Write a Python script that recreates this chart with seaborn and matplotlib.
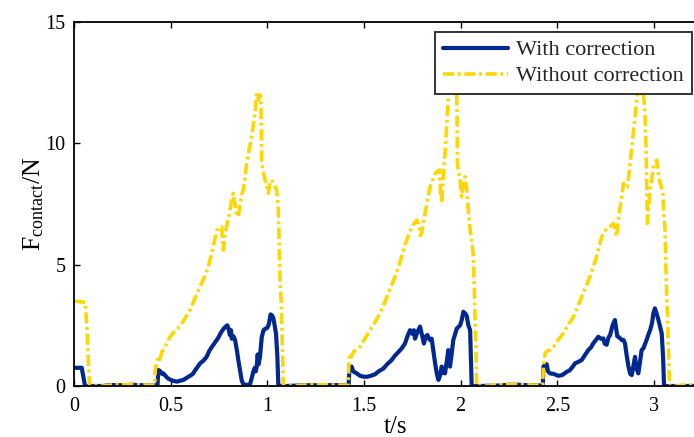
import matplotlib
matplotlib.use("Agg")
import matplotlib.pyplot as plt
import seaborn as sns
import pandas as pd

# ---------------- data ----------------
t_with = [0, 0.04, 0.048, 0.057, 0.15, 0.19, 0.25, 0.3, 0.35, 0.41, 0.432,
          0.436, 0.445, 0.455, 0.462, 0.475, 0.488, 0.51, 0.531, 0.55, 0.566, 0.585, 0.6, 0.615,
          0.626, 0.64, 0.652, 0.67, 0.686, 0.7, 0.712, 0.73, 0.747, 0.76, 0.773, 0.785, 0.793,
          0.80, 0.806, 0.812, 0.816, 0.825, 0.833, 0.842, 0.85, 0.86, 0.867, 0.875, 0.885, 0.91,
          0.918, 0.928, 0.935, 0.94, 0.945, 0.95, 0.955, 0.962, 0.971, 0.98, 0.988, 1.0, 1.008,
          1.017, 1.025, 1.031, 1.04, 1.045, 1.052, 1.057,
          1.1, 1.2, 1.3, 1.35, 1.415,
          1.42, 1.425, 1.436, 1.445, 1.462, 1.48, 1.5, 1.514, 1.535, 1.557, 1.575, 1.6, 1.62,
          1.643, 1.66, 1.678, 1.695, 1.712, 1.725, 1.738, 1.75, 1.758, 1.764, 1.775, 1.79, 1.80,
          1.81, 1.82, 1.828, 1.84, 1.85, 1.858, 1.868, 1.877, 1.885, 1.894, 1.902, 1.91, 1.919,
          1.928, 1.936, 1.945, 1.953, 1.962, 1.97, 1.98, 1.997, 2.005, 2.014, 2.022, 2.031, 2.04,
          2.049, 2.053, 2.057,
          2.1, 2.2, 2.25, 2.3, 2.35, 2.425,
          2.428, 2.437, 2.445, 2.452, 2.462, 2.48, 2.505, 2.525, 2.548, 2.565, 2.58, 2.591, 2.61,
          2.626, 2.645, 2.66, 2.675, 2.686, 2.7, 2.712, 2.725, 2.738, 2.745, 2.755, 2.765, 2.773,
          2.786, 2.798, 2.804, 2.81, 2.82, 2.833, 2.842, 2.85, 2.858, 2.868, 2.877, 2.885, 2.893,
          2.902, 2.91, 2.919, 2.928, 2.936, 2.945, 2.962, 2.97, 2.98, 2.99, 2.997, 3.005, 3.013,
          3.023, 3.03, 3.04, 3.047, 3.052, 3.1, 3.21]
f_with = [0.75, 0.75, 0.4, 0.0, 0.0, 0.04, 0.03, 0.05, 0.03, 0.02, 0.02,
          0.66, 0.62, 0.5, 0.52, 0.4, 0.3, 0.22, 0.18, 0.22, 0.25, 0.35, 0.42, 0.5,
          0.64, 0.8, 0.93, 1.05, 1.2, 1.45, 1.6, 1.8, 2.0, 2.2, 2.35, 2.45, 2.5,
          2.35, 2.1, 2.3, 1.95, 2.05, 1.9, 1.5, 1.07, 0.6, 0.25, 0.08, 0.05, 0.05,
          0.3, 0.6, 0.75, 0.6, 0.8, 1.3, 0.9, 1.2, 2.0, 2.3, 2.35, 2.4, 2.55,
          2.95, 2.9, 2.8, 2.4, 2.15, 1.2, 0.0,
          0.0, 0.03, 0.03, 0.04, 0.02,
          0.02, 0.75, 0.8, 0.6, 0.52, 0.42, 0.38, 0.38, 0.42, 0.48, 0.6, 0.72, 0.9,
          1.07, 1.25, 1.4, 1.55, 1.75, 2.05, 2.3, 2.15, 2.3, 1.95, 2.2, 2.45, 2.1,
          1.75, 2.05, 2.1, 1.9, 1.95, 1.5, 0.93, 0.5, 0.25, 0.45, 0.8, 0.55, 0.52,
          1.0, 1.48, 0.8, 1.3, 1.9, 2.1, 2.37, 2.5, 2.7, 3.06, 3.0, 2.9, 2.5,
          2.3, 1.2, 0.0,
          0.0, 0.02, 0.05, 0.05, 0.03, 0.02,
          0.8, 0.85, 0.9, 0.6, 0.52, 0.5, 0.42, 0.45, 0.58, 0.65, 0.8, 0.93, 1.0,
          1.07, 1.3, 1.48, 1.6, 1.76, 1.9, 2.03, 1.95, 1.96, 1.75, 1.7, 2.0, 2.1,
          2.5, 2.72, 2.4, 2.05, 2.0, 1.9, 1.9, 1.76, 1.3, 0.8, 0.5, 0.45, 0.8,
          1.2, 0.7, 0.52, 1.0, 1.48, 1.55, 1.9, 2.1, 2.3, 2.6, 3.0, 3.2, 3.0,
          2.72, 2.5, 2.17, 1.2, 0.0, 0.0, 0.0]

t_without = [0, 0.058, 0.062, 0.066, 0.072, 0.08, 0.15, 0.19, 0.3, 0.41, 0.418,
             0.42, 0.43, 0.437, 0.445, 0.454, 0.47, 0.485, 0.497, 0.52, 0.548, 0.575, 0.6, 0.625,
             0.652, 0.675, 0.695, 0.71, 0.72, 0.73, 0.738, 0.75, 0.764, 0.768, 0.773, 0.78, 0.79,
             0.807, 0.815, 0.824, 0.83, 0.838, 0.845, 0.85, 0.858, 0.868, 0.876, 0.885, 0.893,
             0.905, 0.919, 0.928, 0.936, 0.945, 0.955, 0.962, 0.966, 0.969, 0.971, 0.98, 0.988,
             0.996, 1.005, 1.012, 1.022, 1.035, 1.048, 1.057, 1.062, 1.066, 1.074, 1.078, 1.083,
             1.15, 1.19, 1.3, 1.41,
             1.418, 1.422, 1.428, 1.436, 1.445, 1.46, 1.48, 1.505, 1.531, 1.555, 1.583, 1.605,
             1.626, 1.645, 1.66, 1.68, 1.695, 1.708, 1.721, 1.735, 1.747, 1.76, 1.773, 1.785,
             1.792, 1.798, 1.808, 1.816, 1.83, 1.842, 1.855, 1.868, 1.88, 1.89, 1.896, 1.902,
             1.91, 1.919, 1.928, 1.936, 1.945, 1.96, 1.975, 1.98, 1.982, 1.983, 1.99, 1.997,
             2.005, 2.013, 2.023, 2.031, 2.04, 2.049, 2.058, 2.066, 2.07, 2.074, 2.079, 2.083,
             2.15, 2.17, 2.3, 2.42,
             2.424, 2.428, 2.437, 2.45, 2.465, 2.48, 2.505, 2.531, 2.555, 2.583, 2.605, 2.626,
             2.648, 2.669, 2.686, 2.703, 2.716, 2.73, 2.748, 2.764, 2.778, 2.79, 2.8, 2.807,
             2.815, 2.825, 2.835, 2.842, 2.85, 2.863, 2.87, 2.876, 2.885, 2.893, 2.902, 2.911,
             2.92, 2.935, 2.949, 2.955, 2.959, 2.963, 2.966, 2.972, 2.98, 2.99, 2.997, 3.005,
             3.014, 3.02, 3.028, 3.038, 3.045, 3.052, 3.057, 3.063, 3.069, 3.075, 3.08,
             3.12, 3.15, 3.21]
f_without = [3.5, 3.45, 3.0, 2.5, 1.5, 0.0, 0.0, 0.04, 0.06, 0.03, 0.03,
             0.66, 1.0, 1.2, 1.1, 1.4, 1.6, 1.85, 2.03, 2.25, 2.45, 2.8, 3.13, 3.6,
             4.09, 4.5, 4.92, 5.4, 5.74, 6.1, 6.4, 6.5, 6.56, 6.0, 5.6, 6.2, 6.6,
             7.25, 7.7, 7.94, 7.6, 7.2, 7.0, 6.97, 7.4, 7.9, 8.08, 8.6, 9.18,
             9.7, 10.27, 10.8, 11.24, 12.06, 11.8, 12.0, 11.9, 10.5, 9.18, 8.8, 8.49,
             8.3, 7.94, 8.3, 8.49, 8.3, 8.08, 7.25, 5.5, 4.37, 3.0, 1.5, 0.0,
             0.0, 0.04, 0.05, 0.03,
             0.05, 1.0, 1.35, 1.21, 1.4, 1.5, 1.62, 1.95, 2.3, 2.6, 3.0, 3.4,
             3.82, 4.2, 4.5, 4.95, 5.33, 5.7, 6.02, 6.3, 6.56, 6.7, 6.84, 6.6,
             6.2, 6.29, 6.8, 7.11, 7.7, 8.21, 8.5, 8.76, 8.85, 8.9, 8.0, 7.53,
             8.6, 9.59, 10.8, 11.78, 12.3, 12.4, 12.2, 11.92, 10.5, 9.18, 8.8, 8.49,
             7.8, 8.3, 8.62, 8.08, 7.2, 6.43, 5.9, 5.33, 4.2, 3.0, 1.5, 0.0,
             0.0, 0.05, 0.06, 0.03,
             0.05, 0.8, 1.35, 1.45, 1.5, 1.62, 1.9, 2.17, 2.5, 2.85, 3.25, 3.68,
             4.1, 4.5, 4.9, 5.33, 5.75, 6.15, 6.4, 6.56, 6.6, 6.7, 6.4, 6.15,
             6.8, 7.39, 7.9, 8.35, 8.2, 8.21, 8.7, 9.18, 9.8, 10.41, 11.1, 11.78,
             12.3, 12.4, 11.78, 10.8, 9.86, 8.0, 6.7, 7.4, 8.08, 8.6, 9.04, 9.2,
             9.31, 8.9, 8.49, 8.2, 7.94, 7.0, 6.43, 4.5, 3.0, 1.5, 0.0,
             0.0, 0.04, 0.05]

x_ticks = [0, 0.5, 1, 1.5, 2, 2.5, 3]
x_tick_labels = ["0", "0.5", "1", "1.5", "2", "2.5", "3"]
y_ticks = [0, 5, 10, 15]
y_tick_labels = ["0", "5", "10", "15"]
series_labels = ["With correction", "Without correction"]

# ---------------- style ----------------
sns.set_theme(style="white")
plt.rcParams["font.family"] = ["Liberation Serif", "DejaVu Serif"]
plt.rcParams["mathtext.fontset"] = "custom"
plt.rcParams["mathtext.rm"] = "Liberation Serif"
plt.rcParams["mathtext.it"] = "Liberation Serif:italic"

W, H = 694, 437
fig = plt.figure(figsize=(W / 100, H / 100), dpi=100)
fig.patch.set_facecolor("white")
ax = fig.add_axes([74 / W, (H - 386) / H, (W - 74) / W, (386 - 22) / H])
ax.set_facecolor("white")

df_w = pd.DataFrame({"t": t_with, "F": f_with})
df_wo = pd.DataFrame({"t": t_without, "F": f_without})

blue = "#00288F"
yellow = "#FFD700"

sns.lineplot(data=df_w, x="t", y="F", ax=ax, color=blue, linewidth=3.0,
             estimator=None, sort=False, label=series_labels[0])
sns.lineplot(data=df_wo, x="t", y="F", ax=ax, color=yellow, linewidth=2.6,
             estimator=None, sort=False, label=series_labels[1])
ax.lines[1].set_linestyle((0, (3.1, 1.0, 0.8, 1.0)))
for ln in ax.lines:
    ln.set_solid_joinstyle("round")
    ln.set_dash_joinstyle("round")

ax.set_xlim(0, 3.207)
ax.set_ylim(0, 15)
ax.set_xticks(x_ticks)
ax.set_xticklabels(x_tick_labels)
ax.set_yticks(y_ticks)
ax.set_yticklabels(y_tick_labels)

for side in ["left", "top", "bottom"]:
    ax.spines[side].set_visible(True)
    ax.spines[side].set_color("black")
    ax.spines[side].set_linewidth(1.3)
ax.spines["right"].set_visible(False)

ax.tick_params(axis="both", direction="in", length=4.5, width=1.0, color="black",
               labelsize=14.5, labelcolor="black", top=True, bottom=True, left=True,
               right=False)
ax.tick_params(axis="x", pad=8)
ax.tick_params(axis="y", pad=6)

ax.set_xlabel("t/s", fontsize=18, color="black")
ax.set_ylabel(r"F$_{\mathrm{contact}}$/N", fontsize=18.5, color="black")
ax.xaxis.set_label_coords((395 - 74) / 620, (386 - 416) / 364)
ax.yaxis.set_label_coords((46 - 74) / 620, 0.5)

leg = ax.legend(loc="upper right", bbox_to_anchor=(692 / W, (H - 32) / H),
                bbox_transform=fig.transFigure, borderaxespad=0, fancybox=False,
                framealpha=1, edgecolor="#333333", fontsize=16, handlelength=2.9,
                handletextpad=0.4, borderpad=0.35, labelspacing=0.25)
leg.get_frame().set_linewidth(1.4)
leg.set_zorder(5)

fig.savefig("out.png", dpi=100)
